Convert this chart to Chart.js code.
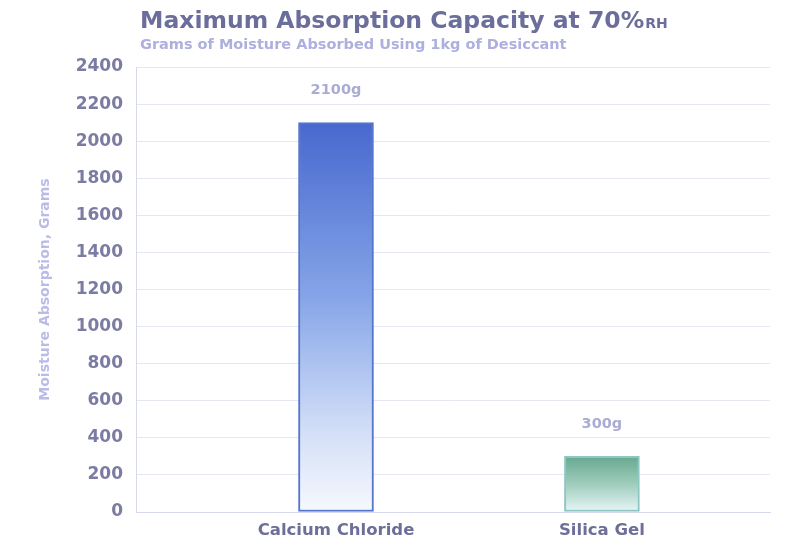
<!DOCTYPE html>
<html>
<head>
<meta charset="utf-8">
<title>Maximum Absorption Capacity at 70%RH</title>
<script src="https://cdn.jsdelivr.net/npm/chart.js@4.4.1/dist/chart.umd.min.js"></script>
<style>
  html, body { margin: 0; padding: 0; background: #ffffff; }
  #wrap { width: 787px; height: 555px; position: relative; }
  canvas { display: block; }
</style>
</head>
<body>
<div id="wrap"><canvas id="chart" width="787" height="555"></canvas></div>
<script>
// Desiccants compared and grams of water each kilogram absorbs at 70% RH
const categories = ['Calcium Chloride', 'Silica Gel'];
const absorption = [2100, 300];
const valueLabels = ['2100g', '300g'];
const categoryPositions = [1, 2];
const yTickValues = [0, 200, 400, 600, 800, 1000, 1200, 1400, 1600, 1800, 2000, 2200, 2400];

const FONT = '"DejaVu Sans", "Liberation Sans", sans-serif';

// Vertical fade for each bar, from its top edge down to the baseline
const barGradients = [
  [[0, '#4868cf'], [0.45, '#86a5e8'], [0.8, '#d4e0f7'], [1, '#f6f9fe']],
  [[0, '#67a891'], [0.5, '#9fcdbc'], [1, '#e8f5f7']]
];
const barBorders = ['#5576cc', '#8cc7c4'];

function barFill(ctx) {
  const chart = ctx.chart;
  const i = ctx.dataIndex;
  const stops = barGradients[i] || barGradients[0];
  if (!chart.chartArea || i == null) return stops[0][1];
  const y = chart.scales.y;
  const top = y.getPixelForValue(absorption[i]);
  const bottom = y.getPixelForValue(0);
  const g = chart.ctx.createLinearGradient(0, top, 0, bottom);
  stops.forEach(([o, c]) => g.addColorStop(o, c));
  return g;
}

// Heading, sub-heading and value labels drawn onto the canvas
const annotations = {
  id: 'annotations',
  afterDraw(chart) {
    const c = chart.ctx;
    c.save();
    c.textBaseline = 'alphabetic';
    c.textAlign = 'left';
    c.fillStyle = '#6b6d9a';
    c.font = 'bold 23.5px ' + FONT;
    const main = 'Maximum Absorption Capacity at 70%';
    c.fillText(main, 140, 28);
    const w = c.measureText(main).width;
    c.font = 'bold 14px ' + FONT;
    c.fillText('RH', 140 + w + 1, 28);

    c.fillStyle = '#adb0de';
    c.font = 'bold 14.5px ' + FONT;
    c.fillText('Grams of Moisture Absorbed Using 1kg of Desiccant', 140, 49);

    const meta = chart.getDatasetMeta(0);
    c.fillStyle = '#a9acd3';
    c.font = 'bold 14.5px ' + FONT;
    c.textAlign = 'center';
    c.textBaseline = 'middle';
    meta.data.forEach((bar, i) => {
      c.fillText(valueLabels[i], bar.x, bar.y - 32);
    });
    c.restore();
  }
};

new Chart(document.getElementById('chart'), {
  type: 'bar',
  data: {
    datasets: [{
      data: categoryPositions.map((x, i) => ({ x: x, y: absorption[i] })),
      backgroundColor: barFill,
      borderColor: barBorders,
      borderWidth: 2,
      borderSkipped: false,
      barThickness: 75
    }]
  },
  options: {
    responsive: false,
    animation: false,
    devicePixelRatio: 1,
    layout: { padding: { top: 67, right: 17, left: 0, bottom: 0 } },
    plugins: {
      legend: { display: false },
      tooltip: { enabled: false }
    },
    scales: {
      x: {
        type: 'linear',
        offset: false,
        min: 0.248,
        max: 2.632,
        afterBuildTicks(scale) { scale.ticks = categoryPositions.map(v => ({ value: v })); },
        afterFit(scale) { scale.height = 43; },
        ticks: {
          callback: v => categories[categoryPositions.indexOf(v)] || '',
          color: '#6e6e99',
          font: { family: FONT, size: 16.5, weight: 'bold' },
          padding: 9,
          maxRotation: 0,
          autoSkip: false
        },
        grid: { display: false, drawTicks: false, offset: false },
        border: { color: '#d6d8ee', width: 1 }
      },
      y: {
        min: 0,
        max: 2400,
        afterBuildTicks(scale) { scale.ticks = yTickValues.map(v => ({ value: v })); },
        afterFit(scale) { scale.width = 136; },
        ticks: {
          callback: v => String(v),
          color: '#7b7ba3',
          font: { family: FONT, size: 17, weight: 'bold' },
          padding: 13
        },
        grid: { color: '#e6e7f4', drawTicks: false },
        border: { color: '#d6d8ee', width: 1 },
        title: {
          display: true,
          text: 'Moisture Absorption, Grams',
          color: '#b9bce6',
          font: { family: FONT, size: 14, weight: 'bold' },
          padding: { top: 37, bottom: 0 }
        }
      }
    }
  },
  plugins: [annotations]
});
</script>
</body>
</html>
